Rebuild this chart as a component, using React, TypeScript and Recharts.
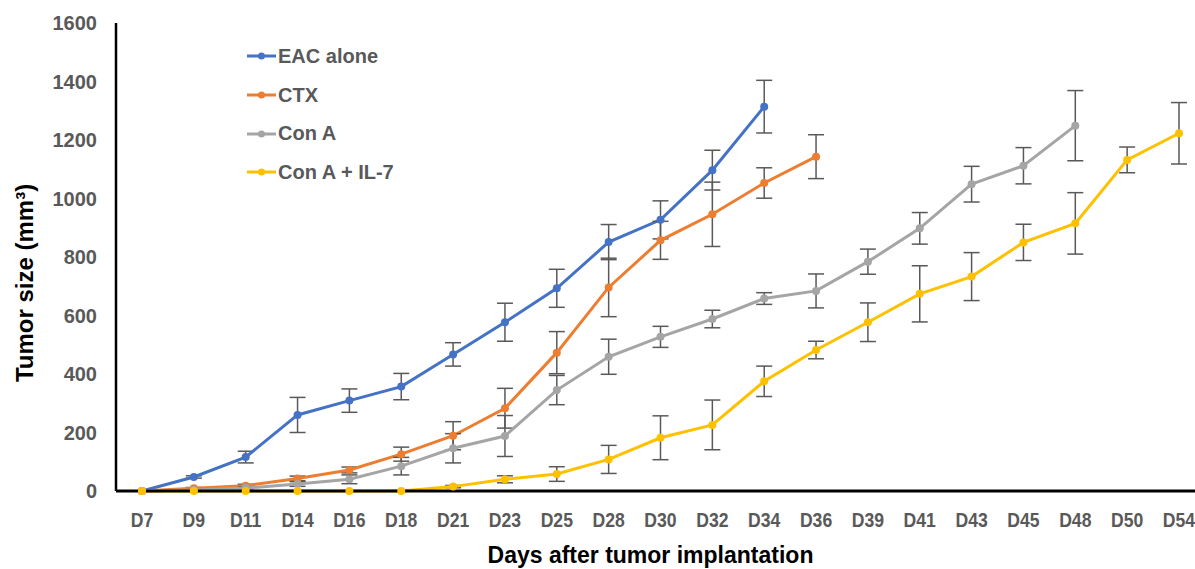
import React from 'react';
import { LineChart, Line, XAxis, YAxis, ErrorBar, Legend } from 'recharts';

const days = ['D7','D9','D11','D14','D16','D18','D21','D23','D25','D28','D30','D32','D34','D36','D39','D41','D43','D45','D48','D50','D54'];

const eacAlone = [0, 48, 116, 260, 309, 357, 467, 577, 693, 851, 927, 1097, 1314, null, null, null, null, null, null, null, null];
const eacAloneErr = [0, 4, 20, 60, 40, 45, 40, 65, 65, 60, 65, 68, 90, null, null, null, null, null, null, null, null];

const ctx = [0, 9, 18, 43, 72, 126, 189, 283, 473, 696, 857, 946, 1053, 1143, null, null, null, null, null, null, null];
const ctxErr = [0, 3, 5, 8, 10, 24, 48, 68, 72, 100, 65, 110, 52, 75, null, null, null, null, null, null, null];

const conA = [0, 3, 10, 24, 40, 85, 146, 188, 345, 459, 527, 588, 658, 684, 784, 898, 1049, 1112, 1249, null, null];
const conAErr = [0, 2, 4, 8, 15, 30, 50, 70, 50, 60, 36, 30, 20, 58, 43, 54, 61, 62, 120, null, null];

const conAIL7 = [0, 0, 0, 0, 0, 0, 15, 40, 58, 108, 182, 226, 375, 482, 577, 674, 733, 850, 915, 1132, 1223];
const conAIL7Err = [0, 0, 0, 0, 0, 0, 4, 12, 25, 48, 75, 85, 52, 30, 66, 96, 82, 62, 105, 44, 105];

const yTicks = [0, 200, 400, 600, 800, 1000, 1200, 1400, 1600];

const seriesNames = ['EAC alone', 'CTX', 'Con A', 'Con A + IL-7'];
const seriesColors = ['#4472C4', '#ED7D31', '#A5A5A5', '#FFC000'];

const data = days.map((d, i) => ({
  day: d,
  eac: eacAlone[i], eacErr: eacAloneErr[i],
  ctx: ctx[i], ctxErr: ctxErr[i],
  cona: conA[i], conaErr: conAErr[i],
  il7: conAIL7[i], il7Err: conAIL7Err[i],
}));

const FONT = '"Liberation Sans", Arial, Helvetica, sans-serif';
const ERR_COLOR = '#595959';

const LegendContent = (props: any) => {
  const payload = [...(props.payload || [])].sort(
    (a: any, b: any) => seriesNames.indexOf(a.value) - seriesNames.indexOf(b.value)
  );
  return (
    <div style={{ fontFamily: FONT }}>
      {payload.map((p: any, i: number) => (
        <div key={i} style={{ display: 'flex', alignItems: 'center', height: 38.7 }}>
          <svg width={30} height={10} style={{ display: 'block' }}>
            <line x1={0} y1={5} x2={29} y2={5} stroke={p.color} strokeWidth={3} />
            <circle cx={14.5} cy={5} r={3.5} fill={p.color} />
          </svg>
          <span style={{ fontSize: 20, fontWeight: 'bold', color: '#595959', marginLeft: 1, whiteSpace: 'nowrap' }}>{p.value}</span>
        </div>
      ))}
    </div>
  );
};

const XTick = (props: any) => {
  const { x, y, payload } = props;
  return (
    <g transform={`translate(${x}, ${y + 14}) scale(0.88, 1)`}>
      <text x={0} y={0} dy="0.71em" textAnchor="middle" fontFamily={FONT} fontSize={20} fontWeight="bold" fill="#595959">
        {payload.value}
      </text>
    </g>
  );
};

const YTitle = (props: any) => {
  const { viewBox } = props;
  const cx = 24;
  const cy = viewBox.y + viewBox.height / 2 + 26;
  return (
    <text x={cx} y={cy} transform={`rotate(-90, ${cx}, ${cy})`} textAnchor="middle" dominantBaseline="central"
      fontFamily={FONT} fontWeight="bold" fontSize={24} fill="#000">
      Tumor size (mm³)
    </text>
  );
};

const XTitle = (props: any) => {
  const { viewBox } = props;
  const cx = viewBox.x + viewBox.width / 2 - 5;
  const cy = viewBox.y + 64;
  return (
    <text x={cx} y={cy} textAnchor="middle" dominantBaseline="central"
      fontFamily={FONT} fontWeight="bold" fontSize={23} fill="#000">
      Days after tumor implantation
    </text>
  );
};

const keys = ['eac', 'ctx', 'cona', 'il7'];

export default function App() {
  return (
    <div style={{ width: 1195, height: 569 }}>
      <style>{'body { margin: 0; }'}</style>
      <LineChart width={1195} height={569} data={data} margin={{ top: 23, right: 0, bottom: 0, left: 0 }}>
        <XAxis
          dataKey="day"
          height={78}
          padding={{ left: 26, right: 16 }}
          axisLine={{ stroke: '#000', strokeWidth: 3 }}
          tickLine={false}
          interval={0}
          tick={<XTick />}
          label={<XTitle />}
        />
        <YAxis
          width={116}
          domain={[0, 1600]}
          ticks={yTicks}
          interval={0}
          axisLine={{ stroke: '#000', strokeWidth: 2.5 }}
          tickLine={false}
          tickMargin={13}
          tick={{ fontFamily: FONT, fontSize: 20, fontWeight: 'bold', fill: '#595959' }}
          label={<YTitle />}
        />
        <Legend
          layout="vertical"
          verticalAlign="middle"
          align="center"
          wrapperStyle={{ left: 247, top: 37, width: 200, transform: 'none' }}
          content={<LegendContent />}
        />
        {keys.map((k, i) => (
          <Line
            key={k}
            type="linear"
            dataKey={k}
            name={seriesNames[i]}
            stroke={seriesColors[i]}
            strokeWidth={3}
            dot={{ r: 4, fill: seriesColors[i], stroke: seriesColors[i], strokeWidth: 0 }}
            activeDot={false}
            isAnimationActive={false}
          >
            <ErrorBar dataKey={`${k}Err`} direction="y" width={8} stroke={ERR_COLOR} strokeWidth={1.5} />
          </Line>
        ))}
      </LineChart>
    </div>
  );
}
